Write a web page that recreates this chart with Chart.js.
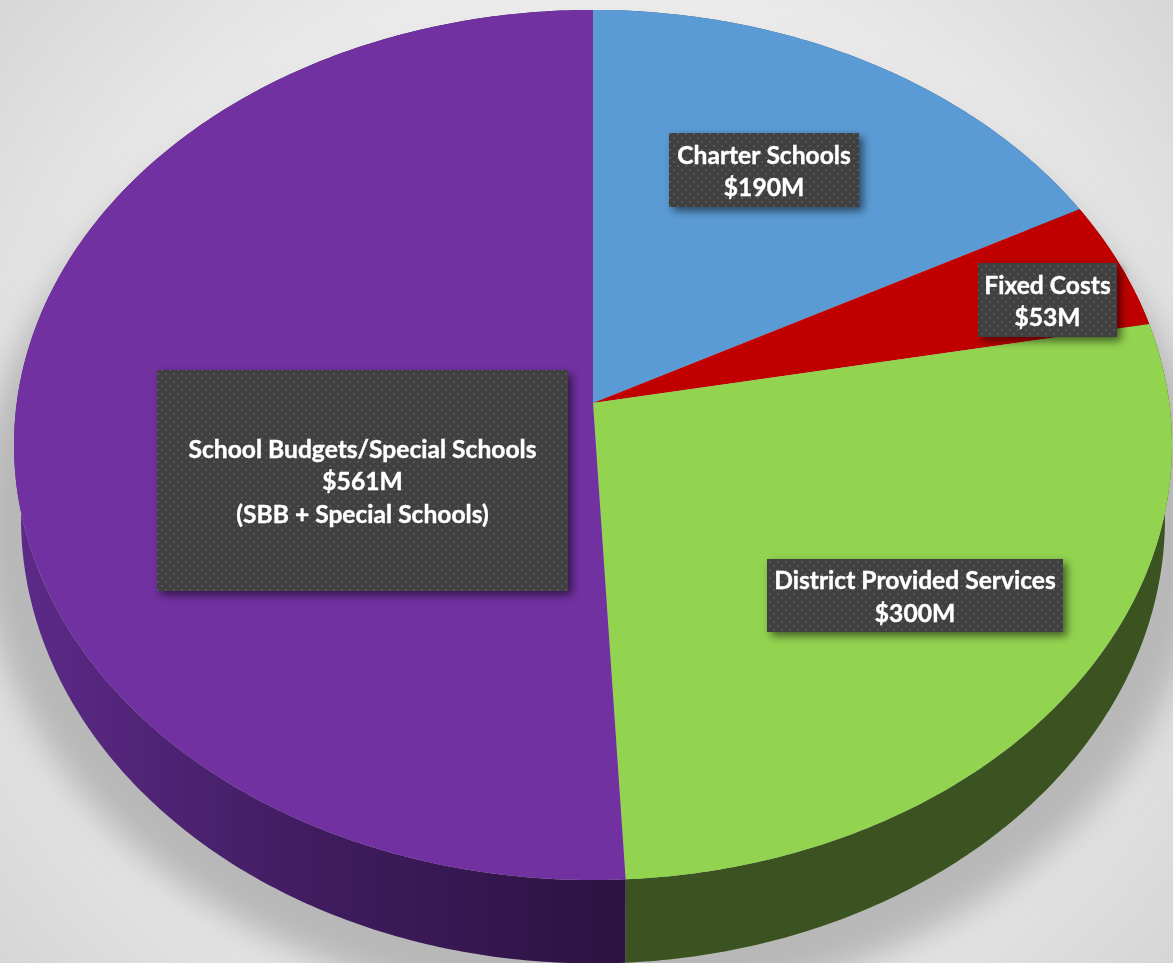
<!DOCTYPE html>
<html>
<head>
<meta charset="utf-8">
<style>
  html, body { margin: 0; padding: 0; background: #e6e6e6; overflow: hidden; }
  canvas { display: block; }
</style>
<script src="https://cdn.jsdelivr.net/npm/chart.js@4/dist/chart.umd.js"></script>
</head>
<body>
<canvas id="budgetPie" width="1173" height="963"></canvas>
<script>
const categories = ['Charter Schools', 'Fixed Costs', 'District Provided Services', 'School Budgets/Special Schools'];
const amounts = [190, 53, 300, 561];
const notes = ['', '', '', '(SBB + Special Schools)'];

const topColors = ['#5b9bd5', '#c00000', '#92d350', '#7131a0'];
const sideColors = ['#2f5577', '#6b0000', '#3b5320', null];

// label boxes, same order as categories
const boxes = [
  { x: 669, y: 133, w: 190, h: 74 },
  { x: 978, y: 263, w: 139, h: 74 },
  { x: 767, y: 559, w: 296, h: 73 },
  { x: 157, y: 370, w: 411, h: 221 }
];

// tilted disc: unit circle through a perspective divide
const k = 0.0965;
const topDisc = { x0: 593, y0: 403, a: 576.3, b: 431 };
const baseDisc = { x0: 593, y0: 475.4, a: 569.3, b: 440.9 };
const shadowDisc = { x0: 593, y0: 475.4, a: 612, b: 484 };

function project(disc, r, angle) {
  const u = r * Math.cos(angle), v = r * Math.sin(angle);
  const d = 1 - k * v;
  return [disc.x0 + disc.a * u / d, disc.y0 + disc.b * v / d];
}

function rim(ctx, disc, from, to) {
  const n = Math.max(2, Math.ceil(Math.abs(to - from) / 0.01));
  for (let i = 0; i <= n; i++) {
    const p = project(disc, 1, from + (to - from) * i / n);
    ctx.lineTo(p[0], p[1]);
  }
}

function dotPattern(ctx) {
  const tile = document.createElement('canvas');
  tile.width = 8; tile.height = 8;
  const t = tile.getContext('2d');
  t.fillStyle = '#404040';
  t.fillRect(0, 0, 8, 8);
  t.fillStyle = '#565656';
  t.fillRect(1, 1, 2, 2);
  t.fillRect(5, 5, 2, 2);
  return ctx.createPattern(tile, 'repeat');
}

const tiltedPie = {
  id: 'tiltedPie',
  beforeDraw(chart) {
    const ctx = chart.ctx;
    const bg = ctx.createRadialGradient(586, 470, 0, 586, 470, 760);
    bg.addColorStop(0, '#f4f4f4');
    bg.addColorStop(0.62, '#ececec');
    bg.addColorStop(1, '#d6d6d6');
    ctx.fillStyle = bg;
    ctx.fillRect(0, 0, chart.width, chart.height);
  },
  // the library works out the slice angles, they are only drawn tilted here
  beforeDatasetsDraw(chart) {
    const ctx = chart.ctx;
    const arcs = chart.getDatasetMeta(0).data;

    // shape sits off the canvas so only its soft shadow lands on the page
    ctx.save();
    ctx.shadowColor = '#b8b8b8';
    ctx.shadowBlur = 32;
    ctx.shadowOffsetX = 3000;
    ctx.translate(-3000, 0);
    ctx.fillStyle = '#000';
    ctx.beginPath();
    rim(ctx, shadowDisc, 0, Math.PI * 2);
    ctx.closePath();
    ctx.fill();
    ctx.restore();

    const purpleSide = ctx.createLinearGradient(20, 0, 623, 0);
    purpleSide.addColorStop(0, '#5c2a88');
    purpleSide.addColorStop(0.45, '#421d62');
    purpleSide.addColorStop(1, '#2c1240');

    arcs.forEach((arc, i) => {
      ctx.beginPath();
      rim(ctx, topDisc, arc.startAngle, arc.endAngle);
      rim(ctx, baseDisc, arc.endAngle, arc.startAngle);
      ctx.closePath();
      ctx.fillStyle = sideColors[i] || purpleSide;
      ctx.fill();
    });

    arcs.forEach((arc, i) => {
      ctx.beginPath();
      ctx.moveTo(topDisc.x0, topDisc.y0);
      rim(ctx, topDisc, arc.startAngle, arc.endAngle);
      ctx.closePath();
      ctx.fillStyle = topColors[i];
      ctx.fill();
    });
    return false;
  },
  // afterDatasetsDraw is skipped once the draw above is cancelled
  afterDraw(chart) {
    const ctx = chart.ctx;
    const dots = dotPattern(ctx);
    categories.forEach((name, i) => {
      const box = boxes[i];
      ctx.save();
      ctx.shadowColor = 'rgba(0,0,0,0.55)';
      ctx.shadowBlur = 8;
      ctx.shadowOffsetX = 4;
      ctx.shadowOffsetY = 4;
      ctx.fillStyle = dots;
      ctx.fillRect(box.x, box.y, box.w, box.h);
      ctx.restore();

      const lines = [name, '$' + amounts[i] + 'M'];
      if (notes[i]) lines.push(notes[i]);
      ctx.fillStyle = '#ffffff';
      ctx.strokeStyle = '#ffffff';
      ctx.lineWidth = 0.4;
      ctx.font = 'bold 24.6px Lato';
      ctx.textAlign = 'center';
      ctx.textBaseline = 'middle';
      const mid = box.y + box.h / 2 + 2, step = 32.8;
      lines.forEach((line, j) => {
        const y = mid + (j - (lines.length - 1) / 2) * step;
        ctx.fillText(line, box.x + box.w / 2, y);
        ctx.strokeText(line, box.x + box.w / 2, y);
      });
    });
  }
};

new Chart(document.getElementById('budgetPie'), {
  type: 'pie',
  plugins: [tiltedPie],
  data: {
    labels: categories,
    datasets: [{ data: amounts, backgroundColor: topColors, borderWidth: 0 }]
  },
  options: {
    responsive: false,
    animation: false,
    plugins: { legend: { display: false }, tooltip: { enabled: false } }
  }
});
</script>
</body>
</html>
